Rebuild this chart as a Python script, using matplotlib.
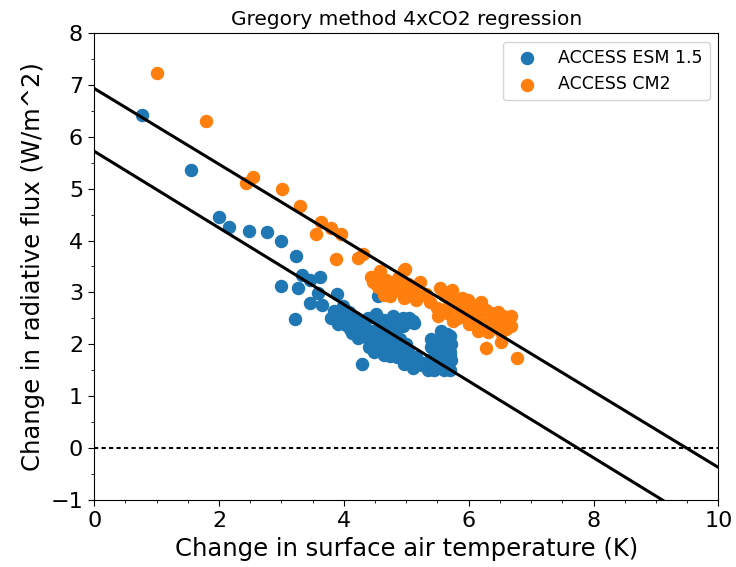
import numpy as np
import matplotlib
matplotlib.use("Agg")
import matplotlib.pyplot as plt
from matplotlib.ticker import MultipleLocator

# ACCESS ESM 1.5
esm_dT = [0.77, 1.55, 2.00, 2.16, 2.48, 2.77, 3.00, 3.24, 3.33, 3.00,
          3.27, 3.45, 3.62, 3.59, 3.89, 3.21, 3.45, 3.65, 3.80, 3.99,
          4.09, 4.20, 4.29, 4.54, 4.04, 4.13, 4.26, 4.39, 4.52, 4.65,
          4.78, 4.94, 5.06, 5.12, 4.84, 4.58, 4.42, 4.23, 4.49, 4.68,
          4.74, 4.90, 5.03, 5.40, 5.30, 5.48, 5.61, 5.70, 5.72, 5.70,
          5.54, 5.67, 5.72, 5.66, 5.60, 5.22, 4.97, 5.10, 5.35, 5.48,
          5.70, 5.61, 4.84, 4.58, 4.36,
          3.85, 3.95, 4.05, 3.90, 4.10, 4.15, 4.30, 4.35, 4.45, 4.50,
          4.60, 4.55, 4.70, 4.75, 4.80, 4.85, 4.95, 4.90, 5.00, 5.05,
          5.15, 5.25, 4.65, 4.40, 5.10, 4.95, 4.70, 4.60, 5.05, 4.85,
          5.40, 5.45, 5.50, 5.55, 5.60, 5.65, 5.70, 5.50, 5.60, 5.45,
          5.38, 5.65, 5.55]
esm_dN = [6.42, 5.36, 4.45, 4.26, 4.18, 4.16, 3.99, 3.70, 3.33, 3.12,
          3.08, 3.24, 3.29, 2.99, 2.97, 2.49, 2.79, 2.76, 2.50, 2.74,
          2.62, 2.50, 1.62, 2.93, 2.37, 2.22, 2.35, 2.50, 2.58, 2.47,
          2.54, 2.50, 2.43, 2.42, 2.27, 2.24, 2.08, 2.12, 1.85, 1.97,
          1.77, 1.97, 1.85, 1.95, 1.60, 2.00, 2.12, 2.16, 2.00, 1.85,
          1.73, 1.62, 1.70, 1.58, 1.50, 1.66, 1.62, 1.54, 1.50, 1.58,
          1.50, 1.89, 1.85, 2.04, 2.27,
          2.65, 2.55, 2.45, 2.40, 2.30, 2.55, 2.30, 2.15, 2.25, 2.00,
          2.10, 1.90, 2.15, 1.95, 2.05, 1.75, 1.80, 2.10, 2.00, 1.70,
          1.75, 1.60, 1.80, 1.95, 2.45, 2.35, 2.40, 2.45, 2.50, 2.45,
          2.10, 1.90, 1.75, 2.05, 1.85, 1.95, 1.80, 1.60, 1.55, 1.50,
          1.70, 2.20, 2.25]

# ACCESS CM2
cm2_dT = [1.01, 1.79, 2.44, 2.55, 3.01, 3.30, 3.56, 3.64, 3.80, 3.96,
          3.88, 4.23, 4.31, 4.46, 4.58, 4.68, 4.78, 4.87, 4.97, 5.03,
          5.13, 5.22, 4.74, 4.97, 5.16, 5.32, 5.38, 5.54, 5.51, 5.67,
          5.80, 5.90, 5.99, 6.09, 6.19, 6.28, 6.15, 6.03, 6.38, 6.47,
          6.57, 6.67, 6.51, 6.31, 6.28, 6.51, 6.78, 6.67, 5.83, 5.74,
          4.98, 4.43, 4.75, 5.30,
          4.60, 4.70, 4.85, 4.90, 5.00, 5.10, 4.55, 4.65,
          5.60, 5.70, 5.85, 5.95, 6.05, 6.10, 6.20, 6.25, 6.35, 6.40,
          6.45, 6.55, 6.60, 6.00, 6.15, 5.50, 5.65, 5.75]
cm2_dN = [7.23, 6.30, 5.11, 5.22, 4.99, 4.66, 4.12, 4.35, 4.24, 4.12,
          3.64, 3.66, 3.74, 3.20, 3.41, 3.24, 3.04, 3.28, 3.43, 3.16,
          3.04, 3.20, 2.93, 2.89, 2.85, 2.97, 2.81, 3.08, 2.54, 2.74,
          2.81, 2.89, 2.85, 2.74, 2.81, 2.66, 2.54, 2.62, 2.50, 2.62,
          2.43, 2.35, 2.24, 2.24, 1.93, 2.04, 1.73, 2.54, 2.50, 3.04,
          3.45, 3.30, 3.12, 2.95,
          3.30, 3.15, 3.05, 3.20, 3.00, 3.10, 3.10, 2.95,
          2.95, 2.85, 2.70, 2.60, 2.75, 2.50, 2.65, 2.40, 2.60, 2.35,
          2.50, 2.55, 2.30, 2.40, 2.25, 2.70, 2.60, 2.45]

# regression lines (intercept, slope)
intercepts = [5.72, 6.93]
slopes = [-0.738, -0.730]

fig = plt.figure(figsize=(7.36, 5.67), dpi=100)
ax = fig.add_axes([0.128, 0.118, 0.848, 0.824])

ax.scatter(esm_dT, esm_dN, s=75, color="tab:blue", label="ACCESS ESM 1.5")
ax.scatter(cm2_dT, cm2_dN, s=75, color="tab:orange", label="ACCESS CM2")

xx = np.array([0, 10])
for a, b in zip(intercepts, slopes):
    ax.plot(xx, a + b * xx, color="k", lw=2.2)

ax.axhline(0, color="k", ls=(0, (2.0, 1.6)), lw=1.5)

ax.set_xlim(0, 10)
ax.set_ylim(-1, 8)
ax.xaxis.set_minor_locator(MultipleLocator(0.5))
ax.yaxis.set_minor_locator(MultipleLocator(0.5))
ax.tick_params(which="major", labelsize=16, length=4.5)
ax.set_xlabel("Change in surface air temperature (K)", fontsize=17.5)
ax.set_ylabel("Change in radiative flux (W/m^2)", fontsize=17.5)
ax.set_title("Gregory method 4xCO2 regression", fontsize=14.5)
ax.legend(loc="upper right", fontsize=12.5)

fig.savefig("out.png")
